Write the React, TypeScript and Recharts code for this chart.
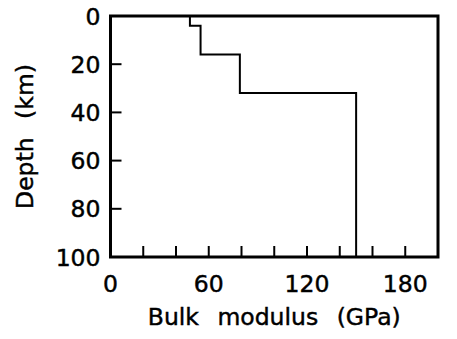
import { LineChart, Line, XAxis, YAxis, ReferenceArea } from "recharts";

// layer tops / bottoms (km) and bulk modulus (GPa)
const layerTop = [0, 4, 16, 32];
const layerBottom = [4, 16, 32, 100];
const bulkModulus = [48.5, 55, 79, 150];

const xTicks = [0, 20, 40, 60, 80, 100, 120, 140, 160, 180, 200];
const xLabels = [0, 60, 120, 180];
const yTicks = [0, 20, 40, 60, 80, 100];

const W = 457;
const H = 339;
const margin = { top: 16, right: 19, bottom: 12, left: 20 };
const Y_AXIS_W = 90.5;
const X_AXIS_H = 70;
const PLOT_LEFT = margin.left + Y_AXIS_W;
const PLOT_BOTTOM = H - margin.bottom - X_AXIS_H;
const TICK_LEN = 11;

const textStyle = {
  fontFamily: "'DejaVu Sans', sans-serif",
  fontSize: 23.5,
  fill: "#000",
  stroke: "#000",
  strokeWidth: 0.45,
};

// step profile: each layer is a vertical segment
const profile = bulkModulus.flatMap((k, i) => [
  { k, depth: layerTop[i] },
  { k, depth: layerBottom[i] },
]);

function XTick(props: any) {
  const { payload } = props;
  const cx = payload.coordinate;
  const v = payload.value;
  return (
    <g>
      {v > 0 && v < 200 && (
        <line x1={cx} x2={cx} y1={PLOT_BOTTOM} y2={PLOT_BOTTOM - TICK_LEN} stroke="#000" strokeWidth={2} />
      )}
      {xLabels.includes(v) && (
        <text x={cx} y={PLOT_BOTTOM + 35} textAnchor="middle" style={textStyle}>
          {v}
        </text>
      )}
    </g>
  );
}

function YTick(props: any) {
  const { payload } = props;
  const cy = payload.coordinate;
  const v = payload.value;
  return (
    <g>
      {v > 0 && v < 100 && (
        <line x1={PLOT_LEFT} x2={PLOT_LEFT + TICK_LEN} y1={cy} y2={cy} stroke="#000" strokeWidth={2} />
      )}
      <text x={PLOT_LEFT - 10} y={cy + 8.5} textAnchor="end" style={textStyle}>
        {v}
      </text>
    </g>
  );
}

export default function App() {
  return (
    <div style={{ position: "absolute", left: 0, top: 0, background: "#fff" }}>
      <LineChart width={W} height={H} data={profile} margin={margin}>
        <XAxis
          type="number"
          dataKey="k"
          domain={[0, 200]}
          ticks={xTicks}
          interval={0}
          axisLine={false}
          tickLine={false}
          height={X_AXIS_H}
          tick={<XTick />}
          label={{
            content: () => (
              <text
                x={PLOT_LEFT + (W - margin.right - PLOT_LEFT) / 2}
                y={325}
                textAnchor="middle"
                style={{ ...textStyle, wordSpacing: 11 }}
              >
                Bulk modulus (GPa)
              </text>
            ),
          }}
        />
        <YAxis
          type="number"
          dataKey="depth"
          domain={[0, 100]}
          reversed
          ticks={yTicks}
          interval={0}
          axisLine={false}
          tickLine={false}
          width={Y_AXIS_W}
          tick={<YTick />}
          label={{
            content: () => (
              <text
                x={0}
                y={0}
                transform={`translate(33, ${(margin.top + PLOT_BOTTOM) / 2}) rotate(-90)`}
                textAnchor="middle"
                style={{ ...textStyle, wordSpacing: 11 }}
              >
                Depth (km)
              </text>
            ),
          }}
        />
        <ReferenceArea
          x1={0}
          x2={200}
          y1={0}
          y2={100}
          fill="none"
          stroke="#000"
          strokeWidth={3}
          ifOverflow="visible"
        />
        <Line
          type="linear"
          dataKey="depth"
          stroke="#000"
          strokeWidth={2}
          dot={false}
          activeDot={false}
          isAnimationActive={false}
        />
      </LineChart>
    </div>
  );
}
